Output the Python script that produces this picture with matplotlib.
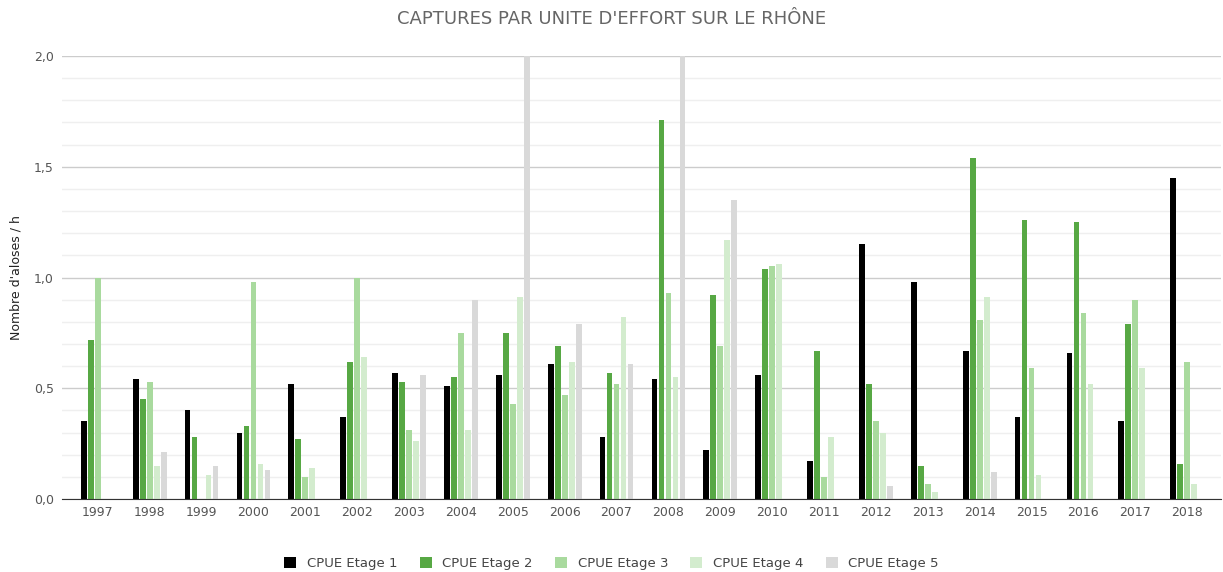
import matplotlib
matplotlib.use("Agg")
import matplotlib.pyplot as plt
import numpy as np
from matplotlib.ticker import MultipleLocator, FuncFormatter

years = [str(y) for y in range(1997, 2019)]
etage1 = [0.35, 0.54, 0.40, 0.30, 0.52, 0.37, 0.57, 0.51, 0.56, 0.61, 0.28, 0.54, 0.22, 0.56, 0.17, 1.15, 0.98, 0.67, 0.37, 0.66, 0.35, 1.45]
etage2 = [0.72, 0.45, 0.28, 0.33, 0.27, 0.62, 0.53, 0.55, 0.75, 0.69, 0.57, 1.71, 0.92, 1.04, 0.67, 0.52, 0.15, 1.54, 1.26, 1.25, 0.79, 0.16]
etage3 = [1.00, 0.53, 0.00, 0.98, 0.10, 1.00, 0.31, 0.75, 0.43, 0.47, 0.52, 0.93, 0.69, 1.05, 0.10, 0.35, 0.07, 0.81, 0.59, 0.84, 0.90, 0.62]
etage4 = [0.00, 0.15, 0.11, 0.16, 0.14, 0.64, 0.26, 0.31, 0.91, 0.62, 0.82, 0.55, 1.17, 1.06, 0.28, 0.30, 0.03, 0.91, 0.11, 0.52, 0.59, 0.07]
etage5 = [0.00, 0.21, 0.15, 0.13, 0.00, 0.00, 0.56, 0.90, 2.60, 0.79, 0.61, 2.60, 1.35, 0.00, 0.00, 0.06, 0.00, 0.12, 0.00, 0.00, 0.00, 0.00]

series = [
    ("CPUE Etage 1", etage1, "#000000"),
    ("CPUE Etage 2", etage2, "#57a844"),
    ("CPUE Etage 3", etage3, "#a9da9e"),
    ("CPUE Etage 4", etage4, "#d3ecce"),
    ("CPUE Etage 5", etage5, "#d9d9d9"),
]

fig = plt.figure(figsize=(12.23, 5.72), dpi=100)
ax = fig.add_axes([0.0507, 0.1276, 0.948, 0.7745])

x = np.arange(len(years))
stride = 0.135
width = 0.11
for i, (name, vals, col) in enumerate(series):
    ax.bar(x + (i - 2) * stride, vals, width=width, color=col, label=name, zorder=3)

ax.set_xlim(-0.69, len(years) - 1 + 0.66)
ax.set_ylim(0, 2.0)
ax.yaxis.set_major_locator(MultipleLocator(0.5))
ax.yaxis.set_minor_locator(MultipleLocator(0.1))
ax.yaxis.set_major_formatter(FuncFormatter(lambda v, p: f"{v:.1f}".replace(".", ",")))
ax.grid(axis="y", which="major", color="#cccccc", linewidth=1, zorder=0)
ax.grid(axis="y", which="minor", color="#efefef", linewidth=1, zorder=0)
ax.set_xticks(x)
ax.set_xticklabels(years)
ax.tick_params(axis="both", which="both", length=0, labelsize=9, labelcolor="#555555")
ax.tick_params(axis="y", pad=6)
ax.tick_params(axis="x", pad=5)
for s in ["top", "right", "left"]:
    ax.spines[s].set_visible(False)
ax.spines["bottom"].set_color("#333333")
ax.spines["bottom"].set_zorder(4)

ax.set_ylabel("Nombre d'aloses / h", fontsize=9, color="#222222", labelpad=8)
fig.suptitle("CAPTURES PAR UNITE D'EFFORT SUR LE RHÔNE", fontsize=13, color="#666666", y=0.982)

fig.legend(loc="lower center", bbox_to_anchor=(0.5, -0.018), ncol=5, frameon=False,
           fontsize=9.5, handlelength=0.9, handleheight=0.9, columnspacing=1.7,
           labelcolor="#444444")

fig.savefig("out.png", dpi=100)
